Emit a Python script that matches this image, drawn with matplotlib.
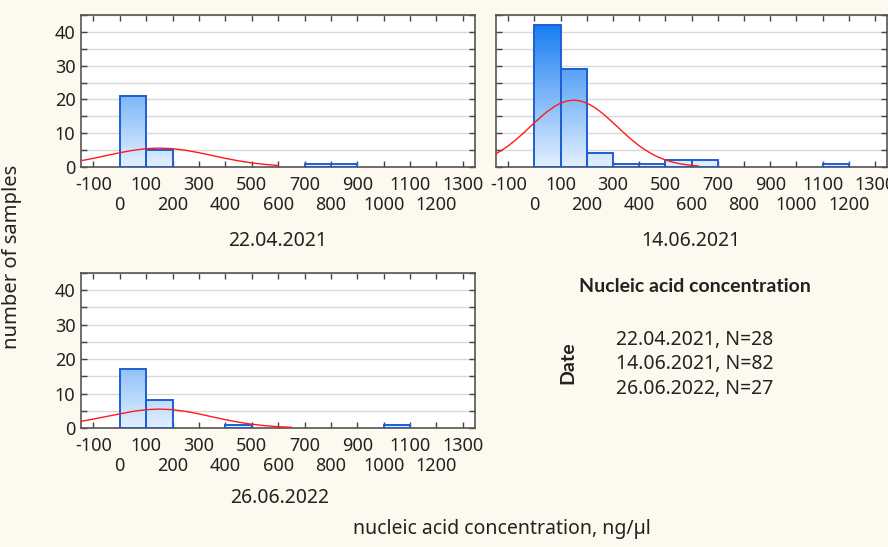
import numpy as np
import matplotlib
matplotlib.use("Agg")
import matplotlib.pyplot as plt
from matplotlib.colors import LinearSegmentedColormap
from matplotlib.patches import Rectangle

plt.rcParams['font.family'] = ['Noto Sans', 'DejaVu Sans']

# histogram bins (ng/ul), width 100
bin_left = [0, 100, 200, 300, 400, 500, 600, 700, 800, 900, 1000, 1100, 1200]
counts_0421 = [21, 5, 0, 0, 0, 0, 0, 1, 1, 0, 0, 0, 0]
counts_0621 = [42, 29, 4, 1, 1, 2, 2, 0, 0, 0, 0, 1, 0]
counts_0622 = [17, 8, 0, 0, 1, 0, 0, 0, 0, 0, 1, 0, 0]

# fitted normal curves
curve_x_0421 = [-150, -100, -50, 0, 50, 100, 150, 200, 250, 300, 350, 400, 450, 500, 550, 600]
curve_y_0421 = [1.82, 2.56, 3.40, 4.23, 4.94, 5.43, 5.6, 5.43, 4.94, 4.23, 3.40, 2.56, 1.82, 1.22, 0.76, 0.45]

curve_x_0621 = [-150, -125, -100, -75, -50, -25, 0, 25, 50, 75, 100, 125, 150, 175, 200, 225, 250,
                275, 300, 325, 350, 375, 400, 425, 450, 475, 500, 525, 550, 575, 600, 625]
curve_y_0621 = [3.79, 4.94, 6.28, 7.81, 9.50, 11.29, 13.10, 14.86, 16.48, 17.86, 18.91, 19.57, 19.8,
                19.57, 18.91, 17.86, 16.48, 14.86, 13.10, 11.29, 9.50, 7.81, 6.28, 4.94, 3.79, 2.84,
                2.09, 1.50, 1.05, 0.72, 0.48, 0.31]

curve_x_0622 = [-150, -100, -50, 0, 50, 100, 150, 200, 250, 300, 350, 400, 450, 500, 550, 600, 650]
curve_y_0622 = [1.9, 2.6, 3.35, 4.1, 4.82, 5.32, 5.5, 5.32, 4.82, 4.09, 3.25, 2.42, 1.69, 1.10, 0.67, 0.38, 0.21]

# x tick labels come in two staggered rows
ticks_row1 = [-100, 100, 300, 500, 700, 900, 1100, 1300]
ticks_row2 = [0, 200, 400, 600, 800, 1000, 1200]

titles = ['22.04.2021', '14.06.2021', '26.06.2022']
legend_lines = ['22.04.2021, N=28', '14.06.2021, N=82', '26.06.2022, N=27']

W, H = 888, 547
bg = '#fdf9ee'
fig = plt.figure(figsize=(W / 100, H / 100), dpi=100, facecolor=bg)

def px_axes(l, t, r, b):
    return fig.add_axes([l / W, 1 - b / H, (r - l) / W, (b - t) / H])

cmap = LinearSegmentedColormap.from_list('bars', ['#e3f0ff', '#0a76f0'])
YMAX = 45
FS = 13
TXT = '#222222'

def draw_panel(ax, counts, cx, cy, show_ylabels=True):
    ax.set_facecolor('white')
    ax.set_yticks([0, 10, 20, 30, 40])
    ax.set_yticks([5, 15, 25, 35, 45], minor=True)
    ax.grid(axis='y', which='both', color='#d9d9d9', lw=1, zorder=0)
    ax.set_axisbelow(True)
    for left, c in zip(bin_left, counts):
        if c == 0:
            continue
        grad = np.linspace(0, c / YMAX, 200).reshape(-1, 1)
        ax.imshow(grad, cmap=cmap, vmin=0, vmax=1, extent=(left, left + 100, 0, c),
                  origin='lower', aspect='auto', zorder=2)
        ax.add_patch(Rectangle((left, 0), 100, c, fill=False, ec='#1d5fd2', lw=1.4, zorder=3))
    ax.plot(cx, cy, color='#ff1a1a', lw=1.0, zorder=4)
    ax.set_xticks(ticks_row1)
    ax.set_xticklabels([str(t) for t in ticks_row1], fontsize=FS, color=TXT)
    ax.set_xticks(ticks_row2, minor=True)
    ax.set_xticklabels([str(t) for t in ticks_row2], minor=True, fontsize=FS, color=TXT)
    ax.tick_params(axis='both', which='both', direction='in', length=4, top=True, right=True,
                   color='#444444', width=1)
    ax.tick_params(axis='x', which='major', pad=6.5)
    ax.tick_params(axis='x', which='minor', pad=21)
    ax.tick_params(axis='y', labelsize=FS, labelcolor=TXT, pad=4)
    if not show_ylabels:
        ax.set_yticklabels([])
    for s in ax.spines.values():
        s.set_color('#555555')
        s.set_linewidth(1.2)
    ax.set_xlim(-147, 1346)
    ax.set_ylim(0, YMAX)

ax1 = px_axes(81, 15, 475, 167)
ax2 = px_axes(496, 15, 887, 167)
ax3 = px_axes(81, 273, 475, 428)
draw_panel(ax1, counts_0421, curve_x_0421, curve_y_0421)
draw_panel(ax2, counts_0621, curve_x_0621, curve_y_0621, show_ylabels=False)
draw_panel(ax3, counts_0622, curve_x_0622, curve_y_0622)

def ftext(x, y, s, **kw):
    fig.text(x / W, 1 - y / H, s, **kw)

ftext(278, 241, titles[0], ha='center', va='center', fontsize=14, color=TXT)
ftext(691, 241, titles[1], ha='center', va='center', fontsize=14, color=TXT)
ftext(280, 498, titles[2], ha='center', va='center', fontsize=14, color=TXT)

ftext(12, 257, 'number of samples', rotation=90, ha='center', va='center', fontsize=14.5, color=TXT)
ftext(502, 529, 'nucleic acid concentration, ng/µl', ha='center', va='center', fontsize=14, color=TXT)

bold = ['Lato', 'DejaVu Sans']
ftext(695, 286, 'Nucleic acid concentration', ha='center', va='center', fontsize=14,
      fontweight='bold', family=bold, color=TXT)
ftext(568, 363, 'Date', rotation=90, ha='center', va='center', fontsize=14, fontweight='bold',
      family=bold, color=TXT)
for i, line in enumerate(legend_lines):
    ftext(616, 340 + 24.5 * i, line, ha='left', va='center', fontsize=14, color=TXT)

fig.savefig('out.png', dpi=100, facecolor=bg)
